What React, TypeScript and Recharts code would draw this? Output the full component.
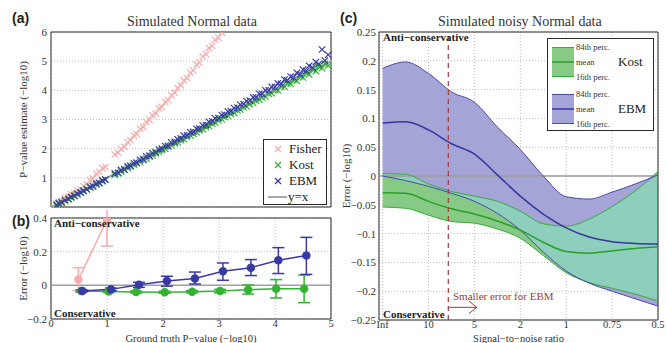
import {
  Area,
  CartesianGrid,
  ComposedChart,
  ErrorBar,
  Legend,
  Line,
  ReferenceArea,
  ReferenceLine,
  Scatter,
  ScatterChart,
  XAxis,
  YAxis,
} from 'recharts'

const SERIF = '"Liberation Serif", "Times New Roman", serif'
const SANS = '"Liberation Sans", Arial, sans-serif'

const FISHER = '#f5adad'
const KOST = '#34b234'
const EBM = '#3a3aa4'
const DIAG = '#a8a8a8'
const GRID = '#bdbdbd'
const FRAME = '#2a2a2a'
const NOTE = '#a23a3a'
const MINUS = '\u2212'

// (a) ground truth vs estimated P-value, both -log10
const truthP = [
  0.1, 0.14, 0.19, 0.25, 0.31, 0.36, 0.42, 0.47, 0.53, 0.58, 0.64, 0.7, 0.75, 0.81, 0.86, 0.92, 0.97,
  1.14, 1.2, 1.25, 1.31, 1.37, 1.42, 1.48, 1.53, 1.59, 1.65, 1.7, 1.76, 1.81, 1.87, 1.93, 1.98,
  2.04, 2.09, 2.15, 2.21, 2.26, 2.32, 2.37, 2.43, 2.49, 2.54, 2.6, 2.65, 2.71, 2.77, 2.82, 2.88, 2.93, 2.99,
  3.05, 3.1, 3.16, 3.21, 3.27, 3.33, 3.38, 3.44, 3.49, 3.55, 3.61, 3.66, 3.72, 3.77, 3.83, 3.89, 3.94,
  4.0, 4.05, 4.11, 4.17, 4.22, 4.28, 4.33, 4.39, 4.45, 4.5, 4.56, 4.61, 4.67, 4.73, 4.78, 4.84, 4.89, 4.95,
]
// Fisher leaves the plot above 6, so only the first runs are listed
const fisherEst = [
  0.12, 0.18, 0.21, 0.31, 0.36, 0.44, 0.47, 0.56, 0.6, 0.71, 0.78, 0.92, 0.98, 1.14, 1.2, 1.33, 1.37,
  1.8, 1.86, 1.99, 2.06, 2.22, 2.29, 2.45, 2.5, 2.68, 2.74, 2.92, 2.98, 3.15, 3.2, 3.38, 3.43,
  3.6, 3.66, 3.83, 3.92, 4.08, 4.17, 4.34, 4.42, 4.6, 4.68, 4.88, 4.95, 5.16, 5.24, 5.45, 5.52, 5.73, 5.8,
  5.98,
]
const kostEst = [
  0.07, 0.1, 0.16, 0.21, 0.28, 0.32, 0.39, 0.43, 0.5, 0.54, 0.61, 0.66, 0.72, 0.77, 0.83, 0.88, 0.94,
  1.1, 1.16, 1.21, 1.28, 1.33, 1.39, 1.44, 1.5, 1.55, 1.61, 1.66, 1.73, 1.77, 1.84, 1.89, 1.95,
  2.0, 2.06, 2.11, 2.18, 2.22, 2.29, 2.33, 2.4, 2.45, 2.51, 2.56, 2.63, 2.67, 2.74, 2.78, 2.85, 2.89, 2.97,
  3.01, 3.08, 3.12, 3.19, 3.23, 3.31, 3.34, 3.42, 3.45, 3.53, 3.57, 3.65, 3.68, 3.76, 3.78, 3.88, 3.9,
  4.01, 4.0, 4.13, 4.12, 4.24, 4.22, 4.36, 4.33, 4.48, 4.44, 4.6, 4.55, 4.72, 4.66, 4.82, 4.76, 4.92, 4.85,
]
const ebmEst = [
  0.06, 0.13, 0.15, 0.24, 0.27, 0.35, 0.38, 0.46, 0.49, 0.56, 0.6, 0.69, 0.71, 0.8, 0.82, 0.91, 0.94,
  1.15, 1.17, 1.27, 1.29, 1.39, 1.41, 1.5, 1.52, 1.62, 1.64, 1.74, 1.76, 1.85, 1.88, 1.97, 2.0,
  2.09, 2.1, 2.21, 2.23, 2.32, 2.35, 2.45, 2.46, 2.56, 2.58, 2.68, 2.69, 2.8, 2.81, 2.92, 2.94, 3.04, 3.05,
  3.15, 3.17, 3.27, 3.29, 3.39, 3.41, 3.51, 3.53, 3.63, 3.65, 3.76, 3.76, 3.88, 3.88, 4.0, 4.0, 4.12,
  4.11, 4.24, 4.22, 4.37, 4.34, 4.47, 4.44, 4.6, 4.55, 4.71, 4.67, 4.84, 4.78, 4.97, 4.9, 5.4, 5.02, 5.22,
]

// (b) binned error of the estimate
const fisherBinX = [0.49, 1.0]
const fisherBinMean = [0.034, 0.39]
const fisherBinLo = [-0.03, 0.233]
const fisherBinHi = [0.105, 0.52]
const kostBinX = [0.54, 1.03, 1.52, 2.03, 2.52, 3.02, 3.52, 4.02, 4.52]
const kostBinMean = [-0.034, -0.037, -0.04, -0.041, -0.038, -0.034, -0.026, -0.021, -0.021]
const kostBinLo = [-0.04, -0.043, -0.046, -0.047, -0.045, -0.044, -0.052, -0.075, -0.103]
const kostBinHi = [-0.028, -0.031, -0.034, -0.035, -0.031, -0.024, 0.002, 0.034, 0.061]
const ebmBinX = [0.56, 1.07, 1.57, 2.07, 2.57, 3.07, 3.57, 4.06, 4.56]
const ebmBinMean = [-0.033, -0.024, 0.003, 0.026, 0.04, 0.083, 0.105, 0.149, 0.177]
const ebmBinLo = [-0.038, -0.032, -0.012, -0.005, 0.008, 0.03, 0.058, 0.07, 0.065]
const ebmBinHi = [-0.028, -0.016, 0.018, 0.054, 0.079, 0.133, 0.153, 0.224, 0.285]

// (c) error vs signal-to-noise, positions on an even SNR scale
const snrLabels = ['Inf', '10', '5', '2', '1', '0.75', '0.5']
const snrPos = [0, 0.5, 1, 1.5, 2, 2.5, 3, 3.5, 4, 4.5, 5, 5.5, 6]
const kostP84 = [0.004, 0.003, -0.014, -0.027, -0.035, -0.044, -0.061, -0.083, -0.087, -0.075, -0.053, -0.026, 0.008]
const kostMean = [-0.029, -0.03, -0.044, -0.057, -0.066, -0.078, -0.094, -0.115, -0.131, -0.134, -0.13, -0.126, -0.123]
const kostP16 = [-0.054, -0.056, -0.068, -0.079, -0.082, -0.092, -0.108, -0.138, -0.168, -0.185, -0.195, -0.205, -0.217]
const ebmP84 = [0.187, 0.198, 0.178, 0.146, 0.128, 0.085, 0.046, 0.0, -0.036, -0.04, -0.028, -0.014, 0.002]
const ebmMean = [0.092, 0.094, 0.08, 0.056, 0.038, 0.002, -0.035, -0.066, -0.09, -0.106, -0.114, -0.117, -0.118]
const ebmP16 = [0.0, -0.008, -0.018, -0.03, -0.044, -0.065, -0.094, -0.132, -0.165, -0.186, -0.2, -0.213, -0.226]
const snrCutoff = 1.43
const arrowY = -0.228
const arrowEnd = 2.05

const fisherPts = fisherEst.map((y, k) => ({ x: truthP[k], y }))
const kostPts = kostEst.map((y, k) => ({ x: truthP[k], y }))
const ebmPts = ebmEst.map((y, k) => ({ x: truthP[k], y }))

const bins = (xs: number[], mean: number[], lo: number[], hi: number[]) =>
  xs.map((x, k) => ({ x, y: mean[k], err: [mean[k] - lo[k], hi[k] - mean[k]] }))
const fisherBins = bins(fisherBinX, fisherBinMean, fisherBinLo, fisherBinHi)
const kostBins = bins(kostBinX, kostBinMean, kostBinLo, kostBinHi)
const ebmBins = bins(ebmBinX, ebmBinMean, ebmBinLo, ebmBinHi)

const snrRows = snrPos.map((i, k) => ({
  i,
  ku: kostP84[k],
  km: kostMean[k],
  kl: kostP16[k],
  eu: ebmP84[k],
  em: ebmMean[k],
  el: ebmP16[k],
  kostBand: [kostP16[k], kostP84[k]],
  ebmBand: [ebmP16[k], ebmP84[k]],
  bothBand: [Math.max(kostP16[k], ebmP16[k]), Math.min(kostP84[k], ebmP84[k])],
}))

const minus = (v: number | string) => String(v).replace('-', MINUS)
const tickStyle = { fontSize: 11, fill: '#333', fontFamily: SERIF }
const xTickStyle = { fontSize: 10.5, fill: '#333', fontFamily: SERIF }
const labelStyle = { fontSize: 11, fill: '#333', fontFamily: SERIF, textAnchor: 'middle' as const }
const xLabelStyle = { fontSize: 10.5, fill: '#333', fontFamily: SERIF, textAnchor: 'middle' as const }

function crossShape(color: string) {
  return (props: any) => {
    const { cx, cy } = props
    if (cx == null || cy == null) return <g />
    const r = 3.2
    return (
      <g stroke={color} strokeWidth={1.2}>
        <line x1={cx - r} y1={cy - r} x2={cx + r} y2={cy + r} />
        <line x1={cx - r} y1={cy + r} x2={cx + r} y2={cy - r} />
      </g>
    )
  }
}

const scatterKeys = [
  { name: 'Fisher', color: FISHER },
  { name: 'Kost', color: KOST },
  { name: 'EBM', color: EBM },
]

function ScatterKey() {
  return (
    <div
      style={{
        width: 62,
        height: 64,
        border: `1px solid ${FRAME}`,
        background: '#fff',
        position: 'relative',
        fontFamily: SERIF,
        fontSize: 13,
        color: '#222',
      }}
    >
      {scatterKeys.map((s, k) => (
        <div key={s.name} style={{ position: 'absolute', left: 0, top: 1 + k * 16, height: 16, display: 'flex', alignItems: 'center' }}>
          <svg width={25} height={16}>
            <g stroke={s.color} strokeWidth={1.3}>
              <line x1={11} y1={5} x2={17} y2={11} />
              <line x1={11} y1={11} x2={17} y2={5} />
            </g>
          </svg>
          <span style={{ lineHeight: '16px' }}>{s.name}</span>
        </div>
      ))}
      <div style={{ position: 'absolute', left: 0, top: 49, height: 16, display: 'flex', alignItems: 'center' }}>
        <svg width={24} height={16}>
          <line x1={4} y1={8} x2={23} y2={8} stroke={DIAG} strokeWidth={2} />
        </svg>
        <span style={{ lineHeight: '16px' }}>y=x</span>
      </div>
    </div>
  )
}

const bandKeys = [
  { name: 'Kost', fill: '#86ca86', edge: '#3aab3a', line: '#28a028' },
  { name: 'EBM', fill: '#a4a4d6', edge: '#4a4aaa', line: '#3636a0' },
]

function BandKey() {
  const small = { position: 'absolute' as const, left: 28, fontSize: 8.5, lineHeight: '10px', color: '#333' }
  return (
    <div
      style={{
        width: 105,
        height: 91,
        border: `1px solid ${FRAME}`,
        background: '#fff',
        position: 'relative',
        fontFamily: SERIF,
      }}
    >
      {bandKeys.map((b, k) => {
        const top = 8 + k * 47
        return (
          <div key={b.name}>
            <svg style={{ position: 'absolute', left: 4, top }} width={22} height={30}>
              <rect x={0} y={0.5} width={22} height={29} fill={b.fill} />
              <line x1={0} y1={0.5} x2={22} y2={0.5} stroke={b.edge} strokeWidth={1} />
              <line x1={0} y1={29.5} x2={22} y2={29.5} stroke={b.edge} strokeWidth={1} />
              <line x1={0} y1={15} x2={22} y2={15} stroke={b.line} strokeWidth={1.5} />
            </svg>
            <div style={{ ...small, top: top - 5 }}>84th perc.</div>
            <div style={{ ...small, top: top + 10 }}>mean</div>
            <div style={{ ...small, top: top + 25 }}>16th perc.</div>
            <div style={{ position: 'absolute', left: 70, top: top + 7, fontSize: 13, lineHeight: '16px', color: '#222' }}>
              {b.name}
            </div>
          </div>
        )
      })}
    </div>
  )
}

function Txt({ x, y, text, size = 11, bold = false, color = '#222', font = SERIF }: any) {
  return (
    <div
      style={{
        position: 'absolute',
        left: x,
        top: y,
        fontSize: size,
        lineHeight: `${size + 1}px`,
        fontWeight: bold ? 'bold' : 'normal',
        color,
        fontFamily: font,
        whiteSpace: 'nowrap',
      }}
    >
      {text}
    </div>
  )
}

function PanelA() {
  return (
    <ScatterChart width={340} height={210} margin={{ top: 32, right: 9, bottom: 3, left: 0 }}>
      <CartesianGrid stroke={GRID} strokeDasharray="1 2" />
      <XAxis type="number" dataKey="x" domain={[0, 5]} ticks={[0, 1, 2, 3, 4, 5]} tick={false} tickLine={false} axisLine={false} height={0} />
      <YAxis
        type="number"
        dataKey="y"
        domain={[0, 6]}
        ticks={[1, 2, 3, 4, 5, 6]}
        allowDataOverflow
        width={51}
        tickSize={0}
        tickMargin={4}
        axisLine={false}
        tick={tickStyle}
        label={{ value: `P${MINUS}value estimate (${MINUS}log10)`, angle: -90, position: 'insideLeft', offset: 23, style: labelStyle }}
      />
      <Scatter data={fisherPts} shape={crossShape(FISHER)} isAnimationActive={false} />
      <Scatter data={kostPts} shape={crossShape(KOST)} isAnimationActive={false} />
      <Scatter data={ebmPts} shape={crossShape(EBM)} isAnimationActive={false} />
      <ReferenceLine segment={[{ x: 0, y: 0 }, { x: 5, y: 5 }]} stroke={DIAG} strokeWidth={2} />
      <ReferenceArea x1={0} x2={5} y1={0} y2={6} fill="none" fillOpacity={0} stroke={FRAME} strokeWidth={1} />
      <Legend
        layout="vertical"
        align="center"
        verticalAlign="middle"
        width={64}
        height={66}
        wrapperStyle={{ left: 263, top: 139 }}
        content={() => <ScatterKey />}
      />
    </ScatterChart>
  )
}

function PanelB() {
  return (
    <ComposedChart width={340} height={133} margin={{ top: 8, right: 9, bottom: 0, left: 0 }}>
      <CartesianGrid stroke={GRID} strokeDasharray="1 2" />
      <XAxis
        type="number"
        dataKey="x"
        domain={[0, 5]}
        ticks={[0, 1, 2, 3, 4, 5]}
        allowDataOverflow
        height={24}
        tickSize={0}
        tickMargin={1}
        axisLine={false}
        tick={xTickStyle}
        label={{ value: `Ground truth P${MINUS}value (${MINUS}log10)`, position: 'insideBottom', offset: 1, style: xLabelStyle }}
      />
      <YAxis
        type="number"
        domain={[-0.2, 0.4]}
        ticks={[-0.2, 0, 0.2, 0.4]}
        allowDataOverflow
        width={51}
        tickSize={0}
        tickMargin={4}
        axisLine={false}
        tick={tickStyle}
        tickFormatter={minus}
        label={{ value: `Error (${MINUS}log10)`, angle: -90, position: 'insideLeft', offset: 23, style: labelStyle }}
      />
      <ReferenceLine y={0} stroke="#a0a0a0" strokeWidth={1.5} />
      <Line data={fisherBins} dataKey="y" stroke={FISHER} strokeWidth={1.5} dot={{ r: 3.5, fill: FISHER, stroke: FISHER }} isAnimationActive={false}>
        <ErrorBar dataKey="err" direction="y" width={6} stroke={FISHER} strokeWidth={1.5} />
      </Line>
      <Line data={kostBins} dataKey="y" stroke={KOST} strokeWidth={1.5} dot={{ r: 3.5, fill: KOST, stroke: KOST }} isAnimationActive={false}>
        <ErrorBar dataKey="err" direction="y" width={6} stroke={KOST} strokeWidth={1.5} />
      </Line>
      <Line data={ebmBins} dataKey="y" stroke={EBM} strokeWidth={1.5} dot={{ r: 3.5, fill: EBM, stroke: EBM }} isAnimationActive={false}>
        <ErrorBar dataKey="err" direction="y" width={6} stroke={EBM} strokeWidth={1.5} />
      </Line>
      <ReferenceArea x1={0} x2={5} y1={-0.2} y2={0.4} fill="none" fillOpacity={0} stroke={FRAME} strokeWidth={1} />
    </ComposedChart>
  )
}

function PanelC() {
  return (
    <ComposedChart width={326} height={343} data={snrRows} margin={{ top: 32, right: 8, bottom: 0, left: 0 }}>
      <CartesianGrid stroke={GRID} strokeDasharray="1 2" />
      <XAxis
        type="number"
        dataKey="i"
        domain={[-0.08, 6]}
        ticks={[0, 1, 2, 3, 4, 5, 6]}
        tickFormatter={(v: number) => snrLabels[v]}
        allowDataOverflow
        height={23}
        tickSize={0}
        tickMargin={1}
        axisLine={false}
        tick={xTickStyle}
        label={{ value: `Signal${MINUS}to${MINUS}noise ratio`, position: 'insideBottom', offset: 1, style: xLabelStyle }}
      />
      <YAxis
        type="number"
        domain={[-0.25, 0.25]}
        ticks={[-0.25, -0.2, -0.15, -0.1, -0.05, 0, 0.05, 0.1, 0.15, 0.2, 0.25]}
        allowDataOverflow
        width={39}
        tickSize={0}
        tickMargin={3}
        axisLine={false}
        tick={tickStyle}
        tickFormatter={minus}
        label={{ value: `Error (${MINUS}log10)`, angle: -90, position: 'insideLeft', offset: 6, style: labelStyle }}
      />
      <Area dataKey="kostBand" type="monotone" fill={bandKeys[0].fill} fillOpacity={1} stroke="none" isAnimationActive={false} />
      <Area dataKey="ebmBand" type="monotone" fill={bandKeys[1].fill} fillOpacity={1} stroke="none" isAnimationActive={false} />
      <Area dataKey="bothBand" type="monotone" fill="#8dcfbc" fillOpacity={1} stroke="none" isAnimationActive={false} />
      <ReferenceLine y={0} stroke="#9c9c9c" strokeWidth={1.5} />
      <Line dataKey="ku" type="monotone" stroke={bandKeys[0].edge} strokeWidth={1} dot={false} isAnimationActive={false} />
      <Line dataKey="kl" type="monotone" stroke={bandKeys[0].edge} strokeWidth={1} dot={false} isAnimationActive={false} />
      <Line dataKey="eu" type="monotone" stroke={bandKeys[1].edge} strokeWidth={1} dot={false} isAnimationActive={false} />
      <Line dataKey="el" type="monotone" stroke={bandKeys[1].edge} strokeWidth={1} dot={false} isAnimationActive={false} />
      <Line dataKey="km" type="monotone" stroke={bandKeys[0].line} strokeWidth={1.5} dot={false} isAnimationActive={false} />
      <Line dataKey="em" type="monotone" stroke={bandKeys[1].line} strokeWidth={1.5} dot={false} isAnimationActive={false} />
      <ReferenceLine x={snrCutoff} stroke={NOTE} strokeWidth={1.2} strokeDasharray="5 4" />
      <ReferenceLine segment={[{ x: snrCutoff, y: arrowY }, { x: arrowEnd, y: arrowY }]} stroke={NOTE} strokeWidth={1} />
      <ReferenceLine segment={[{ x: arrowEnd - 0.17, y: arrowY + 0.011 }, { x: arrowEnd, y: arrowY }]} stroke={NOTE} strokeWidth={1} />
      <ReferenceLine segment={[{ x: arrowEnd - 0.17, y: arrowY - 0.011 }, { x: arrowEnd, y: arrowY }]} stroke={NOTE} strokeWidth={1} />
      <ReferenceArea x1={-0.08} x2={6} y1={-0.25} y2={0.25} fill="none" fillOpacity={0} stroke={FRAME} strokeWidth={1} />
      <Legend
        layout="vertical"
        align="center"
        verticalAlign="middle"
        width={107}
        height={93}
        wrapperStyle={{ left: 207, top: 38 }}
        content={() => <BandKey />}
      />
    </ComposedChart>
  )
}

export default function App() {
  return (
    <div style={{ position: 'absolute', left: 0, top: 0, width: 666, height: 343, background: '#fff', overflow: 'hidden' }}>
      <div style={{ position: 'absolute', left: 0, top: 0 }}>
        <PanelA />
      </div>
      <div style={{ position: 'absolute', left: 0, top: 210 }}>
        <PanelB />
      </div>
      <div style={{ position: 'absolute', left: 340, top: 0 }}>
        <PanelC />
      </div>
      <Txt x={12} y={11} size={14} bold font={SANS} text="(a)" />
      <Txt x={12} y={214} size={14} bold font={SANS} text="(b)" />
      <Txt x={340} y={11} size={14} bold font={SANS} text="(c)" />
      <Txt x={127} y={14} size={14} color="#333" text="Simulated Normal data" />
      <Txt x={438} y={14} size={14} color="#333" text="Simulated noisy Normal data" />
      <Txt x={54} y={217} bold text={`Anti${MINUS}conservative`} />
      <Txt x={54} y={307} bold text="Conservative" />
      <Txt x={383} y={31} bold text={`Anti${MINUS}conservative`} />
      <Txt x={383} y={308} bold text="Conservative" />
      <Txt x={453} y={290} color={NOTE} text="Smaller error for EBM" />
    </div>
  )
}
